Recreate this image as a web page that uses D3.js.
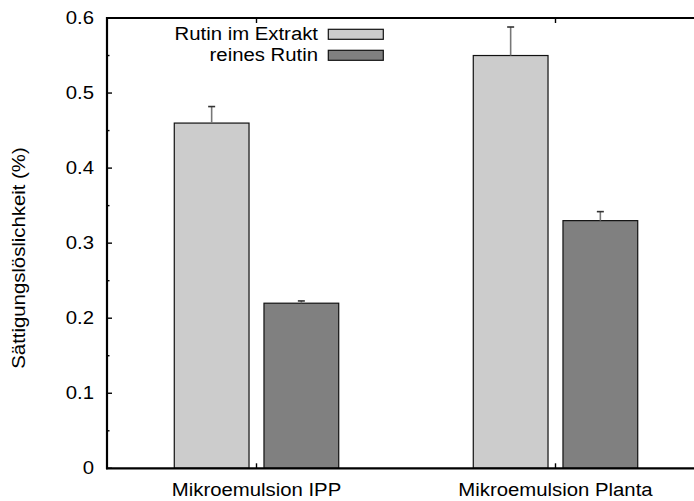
<!DOCTYPE html>
<html>
<head>
<meta charset="utf-8">
<script src="https://cdn.jsdelivr.net/npm/d3@7"></script>
<style>
html,body{margin:0;padding:0;background:#fff;}
text{font-family:"Liberation Sans",Arial,sans-serif;fill:#000;}
</style>
</head>
<body>
<svg id="chart" width="694" height="501"></svg>
<script>
const categories = ["Mikroemulsion IPP", "Mikroemulsion Planta"];
const seriesNames = ["Rutin im Extrakt", "reines Rutin"];
const extraktValues = [0.46, 0.55];
const extraktErrors = [0.022, 0.038];
const reinValues = [0.22, 0.33];
const reinErrors = [0.003, 0.012];
const yTicks = [0, 0.1, 0.2, 0.3, 0.4, 0.5, 0.6];
const yTickLabels = ["0", "0.1", "0.2", "0.3", "0.4", "0.5", "0.6"];
const yMinorTicks = [0.05, 0.15, 0.25, 0.35, 0.45, 0.55];

const fills = ["#cccccc", "#808080"];
const FS = 18, SX = 1.13;

const svg = d3.select("#chart");
const mLeft = 107, mTop = 18, mBottom = 468.3, rightEnd = 705;
const x = d3.scaleLinear().domain([-0.5, 1.5]).range([mLeft, rightEnd]);
const y = d3.scaleLinear().domain([0, 0.6]).range([mBottom, mTop]);

function stext(g, tx, ty, str, anchor, rot) {
  return g.append("text")
    .attr("transform", `translate(${tx},${ty})` + (rot ? ` rotate(${rot})` : "") + ` scale(${SX},1)`)
    .attr("text-anchor", anchor)
    .style("font-size", FS + "px")
    .text(str);
}

const series = [
  {name: seriesNames[0], values: extraktValues, errors: extraktErrors, off: -0.275},
  {name: seriesNames[1], values: reinValues, errors: reinErrors, off: 0.025}
];
const bw = 0.25;

series.forEach((s, si) => {
  svg.append("g").selectAll("rect").data(categories).join("rect")
    .attr("x", (d, i) => x(i + s.off))
    .attr("width", x(bw) - x(0))
    .attr("y", (d, i) => y(s.values[i]))
    .attr("height", (d, i) => y(0) - y(s.values[i]))
    .attr("fill", fills[si])
    .attr("stroke", "#111")
    .attr("stroke-width", 1.2);
});

series.forEach((s) => {
  const g = svg.append("g");
  categories.forEach((c, i) => {
    const cx = x(i + s.off + bw / 2);
    g.append("line").attr("x1", cx).attr("x2", cx)
      .attr("y1", y(s.values[i])).attr("y2", y(s.values[i] + s.errors[i]))
      .attr("stroke", "#777").attr("stroke-width", 1.6);
    g.append("line").attr("x1", cx - 3.5).attr("x2", cx + 3.5)
      .attr("y1", y(s.values[i] + s.errors[i])).attr("y2", y(s.values[i] + s.errors[i]))
      .attr("stroke", "#333").attr("stroke-width", 1.6);
  });
});

const axisG = svg.append("g");
axisG.append("line").attr("x1", mLeft).attr("x2", mLeft).attr("y1", mTop - 1).attr("y2", mBottom + 1)
  .attr("stroke", "#000").attr("stroke-width", 2.2);
axisG.append("line").attr("x1", mLeft - 1).attr("x2", 694).attr("y1", mBottom).attr("y2", mBottom)
  .attr("stroke", "#000").attr("stroke-width", 2.2);
axisG.append("line").attr("x1", mLeft - 1).attr("x2", 694).attr("y1", mTop).attr("y2", mTop)
  .attr("stroke", "#000").attr("stroke-width", 2.2);

yTicks.forEach((v, i) => {
  axisG.append("line").attr("x1", mLeft).attr("x2", mLeft + 5).attr("y1", y(v)).attr("y2", y(v))
    .attr("stroke", "#000").attr("stroke-width", 1.4);
  stext(axisG, 94, y(v) + 6, yTickLabels[i], "end");
});
yMinorTicks.forEach(v => {
  axisG.append("line").attr("x1", mLeft).attr("x2", mLeft + 2.5).attr("y1", y(v)).attr("y2", y(v))
    .attr("stroke", "#000").attr("stroke-width", 1.4);
});

categories.forEach((c, i) => {
  axisG.append("line").attr("x1", x(i)).attr("x2", x(i)).attr("y1", mBottom).attr("y2", mBottom - 5)
    .attr("stroke", "#000").attr("stroke-width", 1.4);
  axisG.append("line").attr("x1", x(i)).attr("x2", x(i)).attr("y1", mTop).attr("y2", mTop + 5)
    .attr("stroke", "#000").attr("stroke-width", 1.4);
  stext(axisG, x(i), 496, c, "middle");
});

stext(svg, 25, 258, "Sättigungslöslichkeit (%)", "middle", -90);

const lg = svg.append("g");
series.forEach((s, si) => {
  const ly = 34.3 + si * 21;
  stext(lg, 318, ly + 6, s.name, "end");
  lg.append("rect").attr("x", 328.3).attr("y", ly - 5).attr("width", 55).attr("height", 10)
    .attr("fill", fills[si]).attr("stroke", "#111").attr("stroke-width", 1.2);
});
</script>
</body>
</html>
